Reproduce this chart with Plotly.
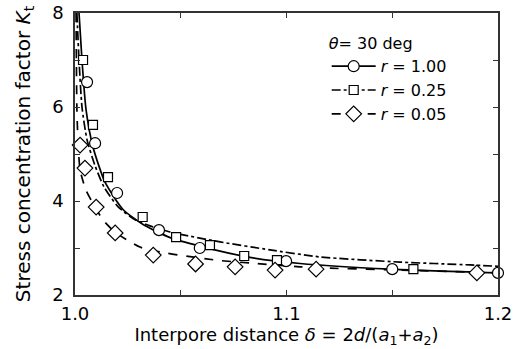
import plotly.graph_objects as go

# measured points
x_r100 = [1.0057, 1.0095, 1.0199, 1.0397, 1.059, 1.0998, 1.150, 1.2]
y_r100 = [6.53, 5.23, 4.17, 3.38, 3.00, 2.72, 2.55, 2.47]
x_r025 = [1.0038, 1.0085, 1.0156, 1.032, 1.0478, 1.0638, 1.080, 1.0955, 1.160]
y_r025 = [7.00, 5.62, 4.51, 3.66, 3.23, 3.06, 2.83, 2.74, 2.55]
x_r005 = [1.0024, 1.0047, 1.010, 1.019, 1.037, 1.057, 1.0757, 1.0946, 1.114, 1.190]
y_r005 = [5.19, 4.70, 3.87, 3.32, 2.85, 2.66, 2.60, 2.53, 2.55, 2.47]

# fitted curves
cx_r100 = [1.0019, 1.0033, 1.0052, 1.0085, 1.0142, 1.0227, 1.0322, 1.045, 1.059, 1.0827, 1.1064, 1.149, 1.2]
cy_r100 = [8.0, 7.0, 5.95, 5.15, 4.4, 3.82, 3.5, 3.22, 3.04, 2.8, 2.67, 2.55, 2.47]
cx_r025 = [1.0009, 1.0019, 1.0033, 1.0057, 1.0095, 1.0137, 1.0203, 1.0284, 1.0355, 1.0449, 1.0686, 1.0922, 1.1158, 1.1537, 1.1868, 1.2]
cy_r025 = [8.0, 7.0, 6.0, 5.3, 4.75, 4.3, 3.88, 3.6, 3.47, 3.34, 3.13, 2.96, 2.81, 2.70, 2.64, 2.61]
cx_r005 = [1.0005, 1.0009, 1.0014, 1.0024, 1.0052, 1.0095, 1.0132, 1.0189, 1.0307, 1.0435, 1.0671, 1.0827, 1.1064, 1.1206, 1.1537, 1.2]
cy_r005 = [8.0, 5.94, 5.3, 4.66, 4.23, 3.87, 3.6, 3.34, 3.02, 2.89, 2.74, 2.68, 2.60, 2.57, 2.53, 2.47]

x_ticks = [1.0, 1.05, 1.1, 1.15, 1.2]
x_labels = ["1.0", "", "1.1", "", "1.2"]
y_ticks = [2, 3, 4, 5, 6, 7, 8]
y_labels = ["2", "", "4", "", "6", "", "8"]

series = [
    ("<i>r</i> = 1.00", x_r100, y_r100, cx_r100, cy_r100, "circle", 11, "solid"),
    ("<i>r</i> = 0.25", x_r025, y_r025, cx_r025, cy_r025, "square", 9, "dashdot"),
    ("<i>r</i> = 0.05", x_r005, y_r005, cx_r005, cy_r005, "diamond", 12, "dash"),
]

FONT = "DejaVu Sans, Arial, sans-serif"
FS = 18
fig = go.Figure()
for name, px, py, cx, cy, sym, sz, dash in series:
    fig.add_trace(go.Scatter(x=cx, y=cy, mode="lines", line=dict(color="black", width=1.7, dash=dash, shape="spline", smoothing=0.6),
                             showlegend=False, hoverinfo="skip"))
for name, px, py, cx, cy, sym, sz, dash in series:
    fig.add_trace(go.Scatter(x=px, y=py, mode="markers", showlegend=False, cliponaxis=False,
                             marker=dict(symbol=sym, size=sz, color="white", line=dict(color="black", width=1.2))))
for name, px, py, cx, cy, sym, sz, dash in series:
    fig.add_trace(go.Scatter(x=[None], y=[None], mode="lines+markers", name=name,
                             line=dict(color="black", width=1.7, dash=dash),
                             marker=dict(symbol=sym, size=sz, color="white", line=dict(color="black", width=1.2))))

axis_common = dict(showgrid=False, zeroline=False, showline=True, linecolor="#333", linewidth=1.5,
                   mirror="ticks", ticks="inside", ticklen=5, tickwidth=1.2, tickcolor="#333",
                   automargin=False,
                   tickfont=dict(size=FS, color="black", family=FONT))
fig.update_xaxes(range=[1.0, 1.2], tickvals=x_ticks, ticktext=x_labels, ticklabelstandoff=2,
                 title=dict(text="Interpore distance <i>δ</i> = 2<i>d</i>/(<i>a</i><sub>1</sub>+<i>a</i><sub>2</sub>)",
                            font=dict(size=FS, color="black", family=FONT), standoff=0), **axis_common)
fig.update_yaxes(range=[2, 8], tickvals=y_ticks, ticktext=y_labels, ticklabelstandoff=6,
                 title=dict(text="Stress concentration factor <i>K</i><sub>t</sub>",
                            font=dict(size=20, color="black", family=FONT), standoff=16), **axis_common)
fig.update_layout(
    width=518, height=349,
    margin=dict(l=75, r=20, t=13, b=54),
    paper_bgcolor="white", plot_bgcolor="white",
    font=dict(family=FONT, color="black", size=FS),
    legend=dict(x=0.595, y=0.945, xanchor="left", yanchor="top", bgcolor="rgba(0,0,0,0)",
                title=dict(text="<i>θ</i>= 30 deg", font=dict(size=16)),
                font=dict(size=16), tracegroupgap=0, itemwidth=44),
)
fig.write_html("out.html", config={"displayModeBar": False},
               post_script="document.body.style.margin='0';document.body.style.padding='0';")
